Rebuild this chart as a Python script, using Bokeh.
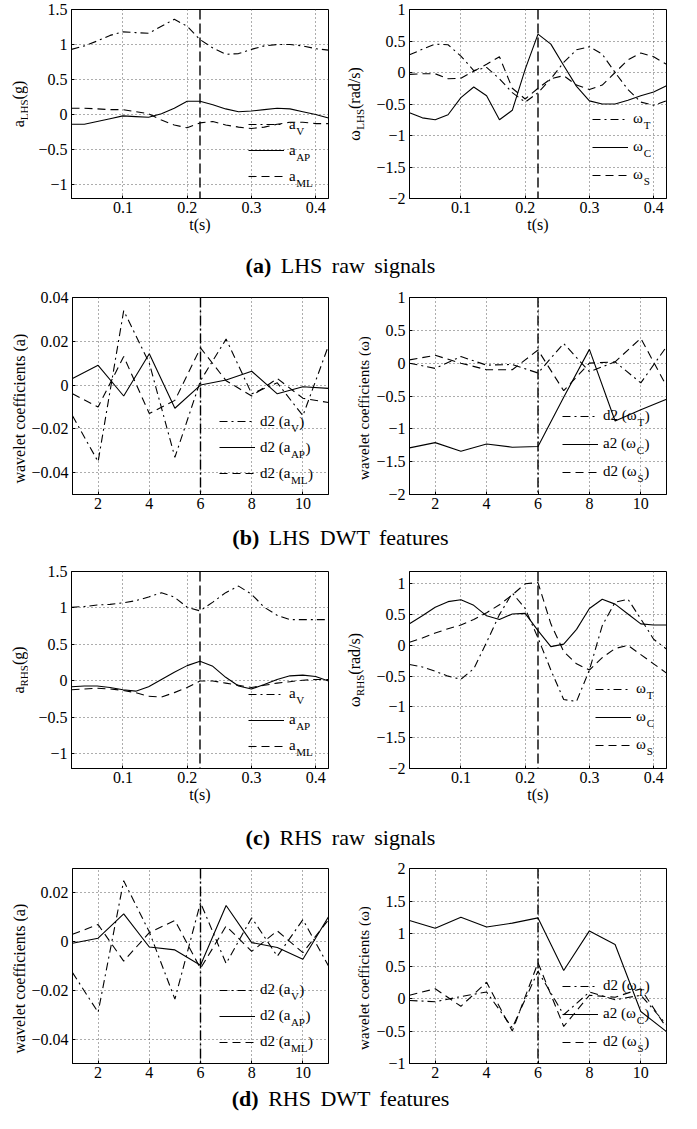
import math
from bokeh.plotting import figure
from bokeh.models import (Range1d, FixedTicker, CustomJSTickFormatter, Span, Label,
                          Legend, LegendItem, Div)
from bokeh.layouts import column, row
from bokeh.core.properties import value
from bokeh.embed import file_html
from bokeh.resources import INLINE

FONT = "Liberation Serif"

# ---------------- data ----------------
t_raw = [0.02, 0.04, 0.06, 0.08, 0.10, 0.12, 0.14, 0.16, 0.18, 0.20, 0.22,
         0.24, 0.26, 0.28, 0.30, 0.32, 0.34, 0.36, 0.38, 0.40, 0.42]
k_dwt = [1, 2, 3, 4, 5, 6, 7, 8, 9, 10, 11]
event_t = 0.22
event_k = 6

# (a) LHS raw signals
lhs_aV = [0.93, 0.98, 1.05, 1.13, 1.18, 1.17, 1.16, 1.26, 1.36, 1.26, 1.07,
          0.95, 0.86, 0.87, 0.93, 0.98, 1.00, 1.00, 0.98, 0.94, 0.92]
lhs_aAP = [-0.14, -0.14, -0.10, -0.06, -0.02, -0.03, -0.04, 0.01, 0.09, 0.19, 0.19,
           0.14, 0.08, 0.04, 0.05, 0.07, 0.09, 0.08, 0.04, 0.00, -0.05]
lhs_aML = [0.09, 0.09, 0.08, 0.07, 0.07, 0.04, 0.01, -0.08, -0.15, -0.19, -0.12,
           -0.10, -0.15, -0.18, -0.20, -0.18, -0.14, -0.11, -0.11, -0.13, -0.13]
lhs_wT = [0.28, 0.37, 0.45, 0.44, 0.26, 0.03, 0.08, -0.10, -0.32, -0.47, -0.32,
          -0.10, 0.16, 0.36, 0.41, 0.29, 0.00, -0.27, -0.47, -0.52, -0.45]
lhs_wC = [-0.64, -0.72, -0.75, -0.67, -0.40, -0.23, -0.37, -0.75, -0.60, 0.05, 0.61,
          0.45, 0.11, -0.22, -0.45, -0.50, -0.50, -0.44, -0.37, -0.31, -0.21]
lhs_wS = [-0.03, -0.02, -0.02, -0.10, -0.09, 0.02, 0.13, 0.25, -0.25, -0.42, -0.25,
          -0.10, -0.05, -0.20, -0.27, -0.20, 0.00, 0.20, 0.31, 0.25, 0.13]

# (b) LHS DWT features
lhs_d2aV = [-0.014, -0.035, 0.034, 0.010, -0.033, 0.002, 0.021, -0.004, 0.001, -0.014, 0.018]
lhs_d2aAP = [0.003, 0.009, -0.005, 0.0143, -0.0106, 0.0, 0.0023, 0.0063, -0.004, -0.0008, -0.0015]
lhs_d2aML = [-0.004, -0.010, 0.013, -0.013, -0.007, 0.017, 0.002, -0.005, 0.003, -0.006, -0.008]
lhs_d2wT = [0.00, -0.08, 0.10, -0.03, -0.02, -0.15, 0.30, -0.13, 0.02, -0.30, 0.25]
lhs_a2wC = [-1.29, -1.21, -1.34, -1.23, -1.28, -1.27, -0.52, 0.21, -0.88, -0.71, -0.55]
lhs_d2wS = [0.05, 0.12, 0.00, -0.10, -0.10, 0.20, -0.42, 0.00, 0.02, 0.38, -0.35]

# (c) RHS raw signals
rhs_aV = [1.01, 1.02, 1.04, 1.05, 1.07, 1.10, 1.15, 1.21, 1.15, 1.01, 0.96,
          1.08, 1.21, 1.30, 1.19, 1.01, 0.90, 0.84, 0.84, 0.84, 0.84]
rhs_aAP = [-0.08, -0.07, -0.07, -0.09, -0.12, -0.14, -0.08, 0.02, 0.12, 0.21, 0.27,
           0.20, 0.05, -0.07, -0.11, -0.05, 0.02, 0.07, 0.08, 0.06, 0.00]
rhs_aML = [-0.12, -0.11, -0.10, -0.11, -0.13, -0.16, -0.21, -0.22, -0.16, -0.09, 0.00,
           0.00, -0.03, -0.06, -0.09, -0.06, -0.03, -0.01, 0.01, 0.02, 0.02]
rhs_wT = [-0.31, -0.35, -0.42, -0.50, -0.55, -0.38, 0.05, 0.50, 0.85, 0.60, 0.12,
          -0.40, -0.88, -0.91, -0.40, 0.32, 0.70, 0.75, 0.43, 0.10, -0.06]
rhs_wC = [0.35, 0.48, 0.62, 0.71, 0.74, 0.65, 0.48, 0.42, 0.51, 0.52, 0.24,
          -0.02, 0.02, 0.26, 0.60, 0.75, 0.67, 0.51, 0.35, 0.33, 0.33]
rhs_wS = [0.05, 0.12, 0.20, 0.27, 0.33, 0.42, 0.53, 0.66, 0.82, 1.00, 1.02,
          0.35, -0.10, -0.30, -0.40, -0.20, -0.05, 0.00, -0.15, -0.30, -0.45]

# (d) RHS DWT features
rhs_d2aV = [-0.0127, -0.029, 0.025, 0.004, -0.0236, 0.016, -0.009, 0.0098, -0.006, 0.009, -0.010]
rhs_d2aAP = [-0.0007, 0.0014, 0.0114, -0.0022, -0.0034, -0.0097, 0.0148, -0.0004, -0.0024, -0.0072, 0.0102]
rhs_d2aML = [0.003, 0.007, -0.008, 0.0037, 0.0087, -0.011, 0.0064, -0.004, 0.0044, -0.0045, 0.009]
rhs_d2wT = [-0.03, -0.05, 0.03, 0.10, -0.45, 0.42, -0.25, 0.10, -0.02, 0.05, -0.40]
rhs_a2wC = [1.20, 1.08, 1.25, 1.10, 1.16, 1.24, 0.43, 1.04, 0.83, -0.20, -0.51]
rhs_d2wS = [0.05, 0.15, -0.12, 0.25, -0.50, 0.55, -0.43, 0.05, 0.02, 0.15, -0.45]

# ticks / ranges
raw_xticks = [0.1, 0.2, 0.3, 0.4]
dwt_xticks = [2, 4, 6, 8, 10]
acc_yticks = [-1, -0.5, 0, 0.5, 1, 1.5]
gyr_yticks = [-2, -1.5, -1, -0.5, 0, 0.5, 1]
coefa_yticks = [-0.04, -0.02, 0, 0.02, 0.04]
coefa2_yticks = [-0.04, -0.02, 0, 0.02]
coefw2_yticks = [-1, -0.5, 0, 0.5, 1, 1.5, 2]

captions = [("(a)", "LHS raw signals"), ("(b)", "LHS DWT features"),
            ("(c)", "RHS raw signals"), ("(d)", "RHS DWT features")]

# ---------------- styling helpers ----------------
STY = ["8 4 2 4", "solid", "8 5"]
TICK_PX = 16
EM = {' ': .25, '(': .333, ')': .333, 'a': .444, 'd': .5, '2': .5, 'g': .5, 'r': .333,
      '/': .278, 's': .389, 'ω': .686, 'L': .611, 'H': .722, 'S': .556, 'R': .667,
      'V': .722, 'A': .722, 'P': .556, 'M': .889, 'T': .611, 'C': .667}


def tw(s, size):
    return sum(EM.get(c, 0.5) for c in s) * size


FMT = CustomJSTickFormatter(code="""
var s = (Math.round(tick*10000)/10000).toString();
return s.replace('-', '\u2212');
""")

FW = 257


def make_panel(xs, ys_list, entries, xr, yr, xt, yt, ev, ev_dash,
               bl, br, bt, bb, fh, xlabel, leg_x, leg_y, leg_sp):
    p = figure(width=bl + FW + br, height=bt + fh + bb,
               x_range=Range1d(*xr), y_range=Range1d(*yr),
               output_backend="svg", toolbar_location=None,
               min_border_left=bl, min_border_right=br,
               min_border_top=bt, min_border_bottom=bb)
    p.outline_line_color = "black"
    p.outline_line_width = 1
    p.outline_line_alpha = 1
    p.xaxis.ticker = FixedTicker(ticks=xt)
    p.yaxis.ticker = FixedTicker(ticks=yt)
    for ax in (p.xaxis[0], p.yaxis[0]):
        ax.formatter = FMT
        ax.major_tick_in = 3
        ax.major_tick_out = 0
        ax.minor_tick_line_color = None
        ax.axis_line_color = "black"
        ax.major_tick_line_color = "black"
        ax.major_label_text_font = FONT
        ax.major_label_text_font_size = f"{TICK_PX}px"
        ax.major_label_text_color = "black"
    p.yaxis.major_label_standoff = 4
    p.xaxis.major_label_standoff = 3
    if xlabel:
        p.xaxis.axis_label = xlabel
        p.xaxis.axis_label_text_font = FONT
        p.xaxis.axis_label_text_font_size = f"{TICK_PX}px"
        p.xaxis.axis_label_text_font_style = "normal"
        p.xaxis.axis_label_text_color = "black"
        p.xaxis.axis_label_standoff = 0
    p.grid.grid_line_color = "#333333"
    p.grid.grid_line_dash = "1 3"
    p.grid.grid_line_alpha = 0.8
    p.grid.grid_line_width = 1

    rends = []
    for ys, d in zip(ys_list, STY):
        rends.append(p.line(xs, ys, line_color="black", line_width=1.1, line_dash=d))

    p.add_layout(Span(location=ev, dimension="height", line_color="black",
                      line_width=1.4, line_dash=ev_dash))

    # legend (no box) with sub-scripted text
    gw, gh, so = 36, 20, 5
    items = [LegendItem(label=value(m), renderers=[r]) for r, (m, s, tl) in zip(rends, entries)]
    leg = Legend(items=items, location=(leg_x, leg_y), orientation="vertical",
                 glyph_width=gw, glyph_height=gh, label_height=gh, label_standoff=so,
                 spacing=leg_sp, padding=0, margin=0,
                 border_line_color=None, background_fill_alpha=0,
                 label_text_font=FONT, label_text_font_size="15px", label_text_color="black")
    p.add_layout(leg)
    n = len(entries)
    H = n * gh + (n - 1) * leg_sp
    for i, (m, s, tl) in enumerate(entries):
        yc = leg_y + H - (i * (gh + leg_sp) + gh / 2)
        xsub = leg_x + gw + so + tw(m, 15)
        p.add_layout(Label(x=xsub, y=yc - 6, x_units="screen", y_units="screen", text=s,
                           text_font=FONT, text_font_size="11px", text_baseline="middle",
                           text_align="left", text_color="black"))
        if tl:
            p.add_layout(Label(x=xsub + tw(s, 11) + 0.5, y=yc, x_units="screen", y_units="screen",
                               text=tl, text_font=FONT, text_font_size="15px",
                               text_baseline="middle", text_align="left", text_color="black"))
    return p


def ylabel_fig(width, bt, bb, fh, parts, x_c, size=16):
    """Narrow blank figure holding a rotated y-axis title (with subscripts)."""
    f = figure(width=width, height=bt + fh + bb, x_range=Range1d(0, 1), y_range=Range1d(0, 1),
               output_backend="svg", toolbar_location=None,
               x_axis_location=None, y_axis_location=None,
               min_border_left=0, min_border_right=0, min_border_top=bt, min_border_bottom=bb)
    f.grid.visible = False
    f.outline_line_color = None
    total = sum(tw(txt, 11 if sub else size) for txt, sub in parts)
    y = fh / 2 - total / 2
    for txt, sub in parts:
        sz = 11 if sub else size
        f.add_layout(Label(x=x_c + (5 if sub else 0), y=y, x_units="screen", y_units="screen",
                           text=txt, angle=math.pi / 2, text_align="left", text_baseline="middle",
                           text_font=FONT, text_font_size=f"{sz}px", text_color="black"))
        y += tw(txt, sz)
    return f


def caption(tag, text, h):
    return Div(text=f"<b>{tag}</b> {text}", width=681, height=h, margin=(0, 0, 0, 0),
               styles={"font-family": FONT, "font-size": "22px", "text-align": "center",
                       "line-height": f"{h}px", "color": "black", "white-space": "nowrap",
                       "word-spacing": "4px"})


acc_leg = [("a", "V", ""), ("a", "AP", ""), ("a", "ML", "")]
gyr_leg = [("ω", "T", ""), ("ω", "C", ""), ("ω", "S", "")]
dacc_leg = [("d2 (a", "V", ")"), ("d2 (a", "AP", ")"), ("d2 (a", "ML", ")")]
dgyr_leg = [("d2 (ω", "T", ")"), ("a2 (ω", "C", ")"), ("d2 (ω", "S", ")")]

# horizontal geometry: [label fig L][left panel][label fig R][right panel]
WL, BLL, BRL = 28, 43, 12
WR, BLR, BRR = 31, 38, 15


def panel_row(bt, bb, fh, left_args, right_args, lab_left, lab_right):
    pl = make_panel(*left_args[:9], BLL, BRL, bt, bb, fh, *left_args[9:])
    pr = make_panel(*right_args[:9], BLR, BRR, bt, bb, fh, *right_args[9:])
    fl = ylabel_fig(WL, bt, bb, fh, *lab_left)
    fr = ylabel_fig(WR, bt, bb, fh, *lab_right)
    return row(fl, pl, fr, pr, spacing=0)


row1 = panel_row(9, 46, 189,
                 (t_raw, [lhs_aV, lhs_aAP, lhs_aML], acc_leg, (0.02, 0.42), (-1.2, 1.5),
                  raw_xticks, acc_yticks, event_t, "10 4", "t(s)", 177, 11.7, 6),
                 (t_raw, [lhs_wT, lhs_wC, lhs_wS], gyr_leg, (0.02, 0.42), (-2, 1),
                  raw_xticks, gyr_yticks, event_t, "10 4", "t(s)", 183, 13.4, 8),
                 ([("a", False), ("LHS", True), ("(g)", False)], 18),
                 ([("ω", False), ("LHS", True), ("(rad/s)", False)], 14))
row2 = panel_row(9, 28, 197,
                 (k_dwt, [lhs_d2aV, lhs_d2aAP, lhs_d2aML], dacc_leg, (1, 11), (-0.05, 0.04),
                  dwt_xticks, coefa_yticks, event_k, "10 3 2 3", None, 147, 11, 6),
                 (k_dwt, [lhs_d2wT, lhs_a2wC, lhs_d2wS], dgyr_leg, (1, 11), (-2, 1),
                  dwt_xticks, gyr_yticks, event_k, "10 3 2 3", None, 153, 12.4, 8),
                 ([("wavelet coefficients (a)", False)], 19, 16),
                 ([("wavelet coefficients (ω)", False)], 23, 15))
row3 = panel_row(17, 50, 197,
                 (t_raw, [rhs_aV, rhs_aAP, rhs_aML], acc_leg, (0.02, 0.42), (-1.2, 1.5),
                  raw_xticks, acc_yticks, event_t, "10 4", "t(s)", 177, 12.4, 6),
                 (t_raw, [rhs_wT, rhs_wC, rhs_wS], gyr_leg, (0.02, 0.42), (-2, 1.2),
                  raw_xticks, gyr_yticks, event_t, "10 4", "t(s)", 186, 13.4, 8),
                 ([("a", False), ("RHS", True), ("(g)", False)], 18),
                 ([("ω", False), ("RHS", True), ("(rad/s)", False)], 14))
row4 = panel_row(10, 23, 195,
                 (k_dwt, [rhs_d2aV, rhs_d2aAP, rhs_d2aML], dacc_leg, (1, 11), (-0.05, 0.03),
                  dwt_xticks, coefa2_yticks, event_k, "10 3 2 3", None, 147, 11.4, 6),
                 (k_dwt, [rhs_d2wT, rhs_a2wC, rhs_d2wS], dgyr_leg, (1, 11), (-1, 2),
                  dwt_xticks, coefw2_yticks, event_k, "10 3 2 3", None, 153, 11.4, 8),
                 ([("wavelet coefficients (a)", False)], 19, 16),
                 ([("wavelet coefficients (ω)", False)], 23, 15))

layout = column(row1, caption(*captions[0], 44),
                row2, caption(*captions[1], 32),
                row3, caption(*captions[2], 40),
                row4, caption(*captions[3], 26),
                spacing=0)

open("out.html", "w").write(file_html(layout, INLINE))
